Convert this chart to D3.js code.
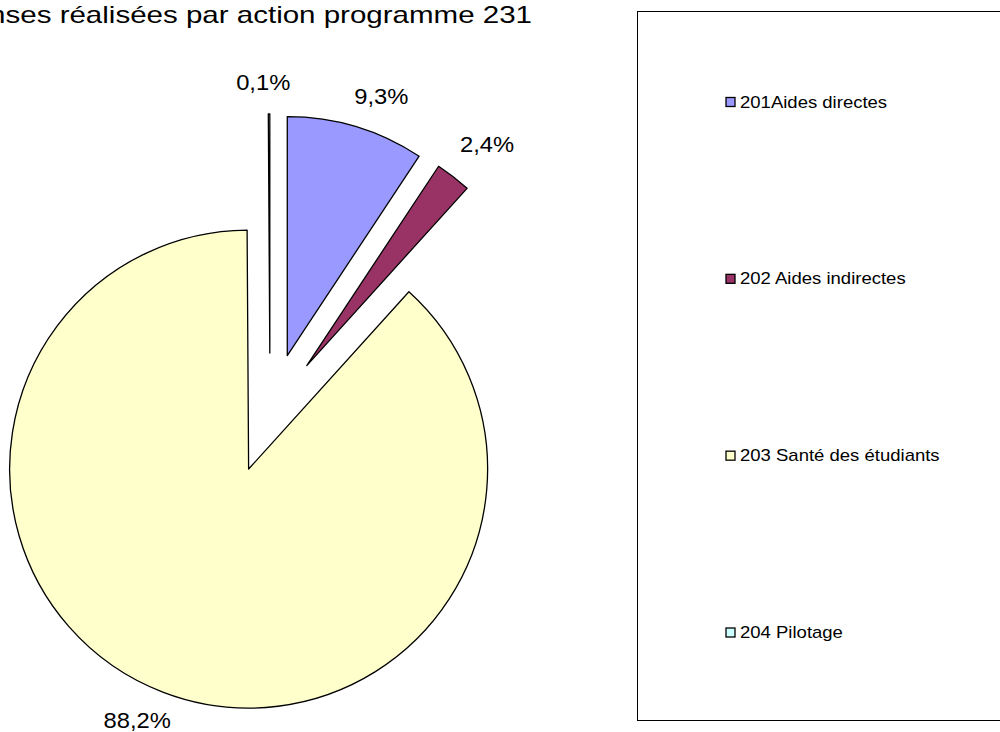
<!DOCTYPE html>
<html><head><meta charset="utf-8">
<script src="https://cdn.jsdelivr.net/npm/d3@7"></script>
<style>body{margin:0;background:#fff;}svg{display:block;font-family:"Liberation Sans",Arial,sans-serif;}</style>
</head><body>
<svg id="c" width="1000" height="732"></svg>
<script>
const title = "Dépenses réalisées par action programme 231";
const categories = ["201Aides directes","202 Aides indirectes","203 Santé des étudiants","204 Pilotage"];
const values = [9.3, 2.4, 88.2, 0.1];
const labels = ["9,3%","2,4%","88,2%","0,1%"];
const colors = ["#9999FF","#993366","#FFFFCC","#CCFFFF"];

const svg = d3.select("#c");
svg.append("text").attr("transform","translate(532,23) scale(1.23,1)").attr("text-anchor","end")
  .attr("font-size",24).attr("fill","#000").text(title);

const cx = 270, cy = 413, R = 239, explode = 60;
const pie = d3.pie().sort(null).value(d=>d)(values);
const arc = d3.arc().innerRadius(0).outerRadius(R);
const g = svg.append("g").attr("transform",`translate(${cx},${cy})`);
pie.forEach((p,i)=>{
  const mid = (p.startAngle+p.endAngle)/2;
  const dx = Math.sin(mid)*explode, dy = -Math.cos(mid)*explode;
  g.append("path").attr("d",arc(p)).attr("transform",`translate(${dx},${dy})`)
    .attr("fill",colors[i]).attr("stroke","#000").attr("stroke-width",1.3).attr("stroke-linejoin","round");
});
// label placement (layout offsets: angle shift in degrees, radius)
const labelLayout = [[2.6,336],[1.1,345.6],[2.5,334.6],[-1.0,331]];
pie.forEach((p,i)=>{
  const mid = (p.startAngle+p.endAngle)/2 + labelLayout[i][0]*Math.PI/180;
  const lr = labelLayout[i][1];
  g.append("text").attr("transform",`translate(${Math.sin(mid)*lr},${-Math.cos(mid)*lr}) scale(1.08,1)`)
    .attr("text-anchor","middle").attr("dy","0.35em").attr("font-size",22).text(labels[i]);
});

// legend
svg.append("rect").attr("x",637.5).attr("y",11.5).attr("width",420).attr("height",709)
  .attr("fill","#fff").attr("stroke","#000").attr("stroke-width",1);
const ly = d3.scalePoint().domain(categories).range([102,632.5]);
const lg = svg.append("g");
categories.forEach((c,i)=>{
  const y = ly(c);
  lg.append("rect").attr("x",726).attr("y",y-4.5).attr("width",9).attr("height",9)
    .attr("fill",colors[i]).attr("stroke","#000").attr("stroke-width",1.3);
  lg.append("text").attr("transform",`translate(740,${y}) scale(1.157,1)`).attr("dy","0.35em").attr("font-size",16).text(c);
});
</script>
</body></html>
